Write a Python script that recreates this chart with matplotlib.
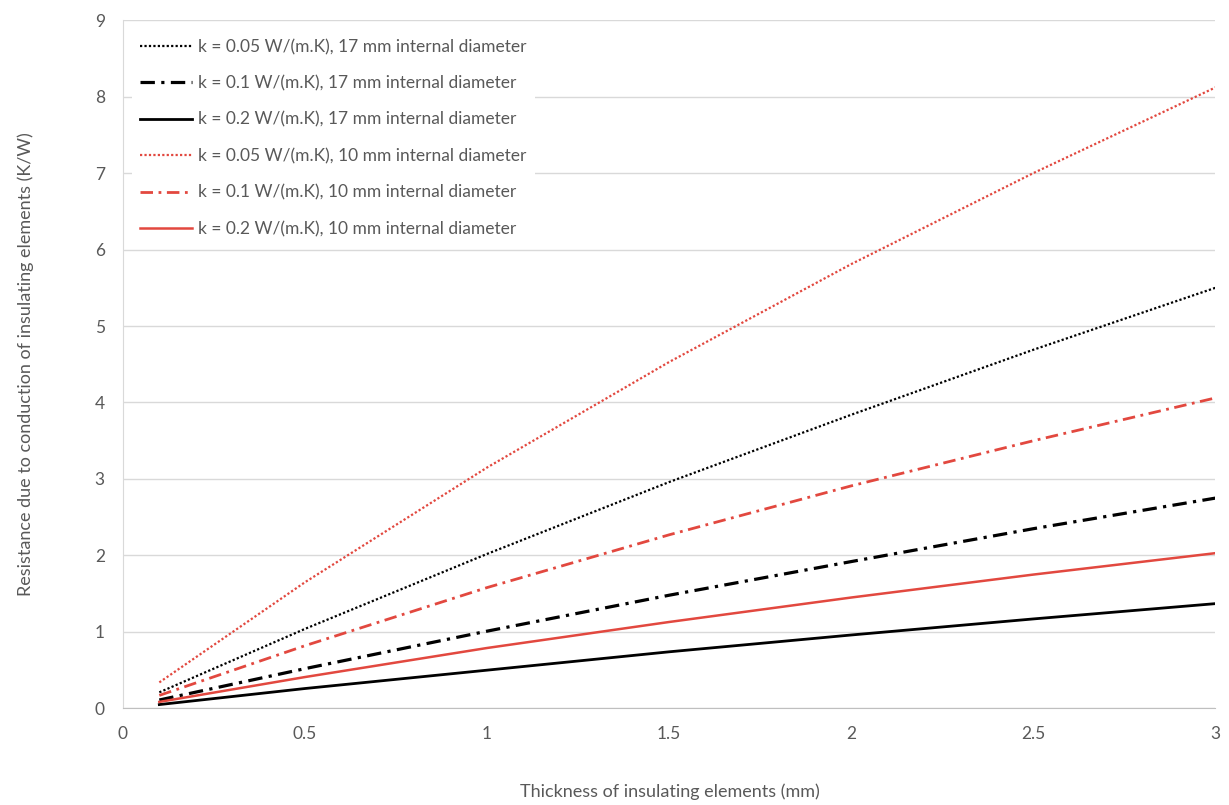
import matplotlib.pyplot as plt
import numpy as np

plt.rcParams['font.family'] = ['Lato', 'DejaVu Sans']

# thickness of insulation (mm)
thickness = [0.1, 0.5, 1.0, 1.5, 2.0, 2.5, 3.0]

# resistance (K/W)
r_k005_d17 = [0.21, 1.04, 2.02, 2.96, 3.84, 4.69, 5.50]
r_k01_d17 = [0.11, 0.52, 1.01, 1.48, 1.92, 2.35, 2.75]
r_k02_d17 = [0.05, 0.26, 0.50, 0.74, 0.96, 1.17, 1.37]
r_k005_d10 = [0.34, 1.65, 3.15, 4.53, 5.81, 7.00, 8.12]
r_k01_d10 = [0.17, 0.82, 1.58, 2.27, 2.91, 3.50, 4.06]
r_k02_d10 = [0.085, 0.41, 0.79, 1.13, 1.45, 1.75, 2.03]

labels = [
    "k = 0.05 W/(m.K), 17 mm internal diameter",
    "k = 0.1 W/(m.K), 17 mm internal diameter",
    "k = 0.2 W/(m.K), 17 mm internal diameter",
    "k = 0.05 W/(m.K), 10 mm internal diameter",
    "k = 0.1 W/(m.K), 10 mm internal diameter",
    "k = 0.2 W/(m.K), 10 mm internal diameter",
]

black = '#000000'
red = '#e2483f'
grey = '#595959'

fig = plt.figure(figsize=(12.29, 8.05), dpi=100)
ax = fig.add_axes([0.1, 0.12, 0.889, 0.855])

dot = (0, (1, 1))
dashdot = (0, (4.5, 2, 1, 2))
ax.plot(thickness, r_k005_d17, color=black, lw=1.6, ls=dot, label=labels[0])
ax.plot(thickness, r_k01_d17, color=black, lw=2.3, ls=dashdot, label=labels[1])
ax.plot(thickness, r_k02_d17, color=black, lw=2.0, ls='-', label=labels[2])
ax.plot(thickness, r_k005_d10, color=red, lw=1.6, ls=dot, label=labels[3])
ax.plot(thickness, r_k01_d10, color=red, lw=2.0, ls=dashdot, label=labels[4])
ax.plot(thickness, r_k02_d10, color=red, lw=1.8, ls='-', label=labels[5])

ax.set_xlim(0, 3)
ax.set_ylim(0, 9)
ax.set_xticks([0, 0.5, 1, 1.5, 2, 2.5, 3])
ax.set_xticklabels(['0', '0.5', '1', '1.5', '2', '2.5', '3'])
ax.set_yticks(range(10))
ax.tick_params(axis='both', length=0, labelsize=12.5, colors=grey)
ax.tick_params(axis='x', pad=13)
ax.tick_params(axis='y', pad=13)

ax.grid(axis='y', color='#d9d9d9', lw=1)
ax.set_axisbelow(True)
for s in ['top', 'right']:
    ax.spines[s].set_visible(False)
ax.spines['left'].set_color('#d9d9d9')
ax.spines['bottom'].set_color('#bfbfbf')

# x label sits close to the bottom edge
fig.text(0.545, 0.006, 'Thickness of insulating elements (mm)', fontsize=13, color=grey,
         ha='center', va='bottom')
ax.set_ylabel('Resistance due to conduction of insulating elements (K/W)', fontsize=13,
              color=grey, labelpad=44)

leg = ax.legend(loc='upper left', bbox_to_anchor=(0.0, 0.998), fontsize=12.5,
                handlelength=3.0, handletextpad=0.3, labelspacing=1.17,
                frameon=True, fancybox=False, borderpad=0.5, borderaxespad=0.5)
leg.get_frame().set_facecolor('white')
leg.get_frame().set_edgecolor('none')
leg.get_frame().set_alpha(1)
for t in leg.get_texts():
    t.set_color(grey)

fig.savefig('out.png', dpi=100)
